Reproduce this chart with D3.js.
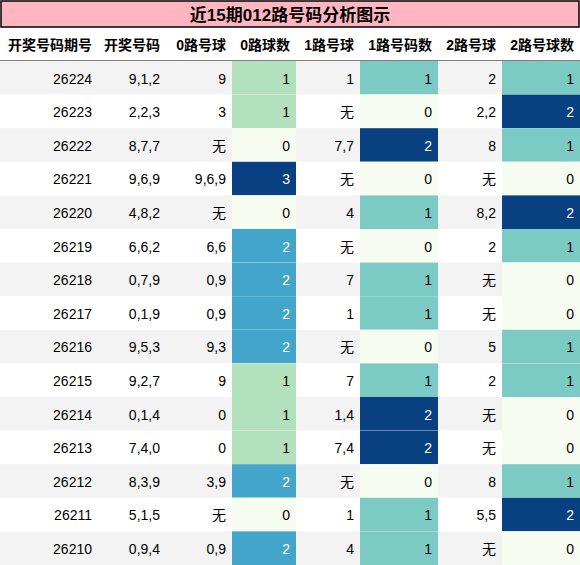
<!DOCTYPE html>
<html><head><meta charset="utf-8">
<script src="https://cdn.jsdelivr.net/npm/d3@7"></script>
<style>body{margin:0;background:#fff}</style></head>
<body><svg id="sv" width="580" height="565"></svg>
<script>
const title = "近15期012路号码分析图示";
const headers = ["开奖号码期号", "开奖号码", "0路号球", "0路球数", "1路号球", "1路号码数", "2路号球", "2路号球数"];
const periods = ["26224","26223","26222","26221","26220","26219","26218","26217","26216","26215","26214","26213","26212","26211","26210"];
const draws = ["9,1,2","2,2,3","8,7,7","9,6,9","4,8,2","6,6,2","0,7,9","0,1,9","9,5,3","9,2,7","0,1,4","7,4,0","8,3,9","5,1,5","0,9,4"];
const r0 = ["9","3","无","9,6,9","无","6,6","0,9","0,9","9,3","9","0","0","3,9","无","0,9"];
const c0 = [1,1,0,3,0,2,2,2,2,1,1,1,2,0,2];
const r1 = ["1","无","7,7","无","4","无","7","1","无","7","1,4","7,4","无","1","4"];
const c1 = [1,0,2,0,1,0,1,1,0,1,2,2,0,1,1];
const r2 = ["2","2,2","8","无","8,2","2","无","无","5","2","无","无","8","5,5","无"];
const c2 = [1,2,1,0,2,1,0,0,1,1,0,0,1,2,0];

const cols = [0, 98, 166, 232, 296, 360, 438, 502, 580];
const rows = periods.map((p, i) => [p, draws[i], r0[i], c0[i], r1[i], c1[i], r2[i], c2[i]]);
const colorCols = {3: c0, 5: c1, 7: c2};
const scales = {};
Object.entries(colorCols).forEach(([k, arr]) => {
  scales[k] = d3.scaleSequential(d3.interpolateGnBu).domain([0, d3.max(arr)]);
});

const svg = d3.select("#sv");
const font = "'Liberation Sans', 'Noto Sans CJK SC', sans-serif";
const headY = 28, bodyY = 61;
const y = d3.scaleBand().domain(d3.range(rows.length)).range([bodyY, 565]).padding(0);

svg.append("rect").attr("x", 1).attr("y", 1).attr("width", 578).attr("height", headY - 2)
  .attr("fill", "#ffb6c1").attr("stroke", "#000").attr("stroke-width", 1.5);
svg.append("text").attr("x", 290).attr("y", 15).attr("dy", ".35em").attr("text-anchor", "middle")
  .attr("font-family", font).attr("font-size", 17).attr("font-weight", "bold").text(title);

svg.append("g").selectAll("text").data(headers).enter().append("text")
  .attr("x", (d, i) => cols[i + 1] - 6).attr("y", (headY + bodyY) / 2 + 1).attr("dy", ".35em")
  .attr("text-anchor", "end").attr("font-family", font).attr("font-size", 14).attr("font-weight", "bold")
  .text(d => d);
svg.append("line").attr("x1", 0).attr("x2", 580).attr("y1", bodyY).attr("y2", bodyY).attr("stroke", "#000").attr("stroke-width", 1.2);

const rg = svg.append("g").selectAll("g").data(rows).enter().append("g")
  .attr("transform", (d, i) => `translate(0,${y(i)})`);
rg.append("rect").attr("width", 580).attr("height", y.bandwidth())
  .attr("fill", (d, i) => i % 2 === 0 ? "#f3f3f3" : "#fff");
rg.each(function (row) {
  const g = d3.select(this);
  row.forEach((v, j) => {
    let fill = null;
    if (scales[j]) {
      fill = scales[j](v);
      g.append("rect").attr("x", cols[j]).attr("width", cols[j + 1] - cols[j]).attr("height", y.bandwidth()).attr("fill", fill);
    }
    const dark = fill && d3.hsl(fill).l < 0.55;
    g.append("text").attr("x", cols[j + 1] - 6).attr("y", y.bandwidth() / 2 + 1).attr("dy", ".35em")
      .attr("text-anchor", "end").attr("font-family", font).attr("font-size", 14)
      .attr("fill", dark ? "#fff" : "#000").text(v);
  });
});
</script></body></html>
